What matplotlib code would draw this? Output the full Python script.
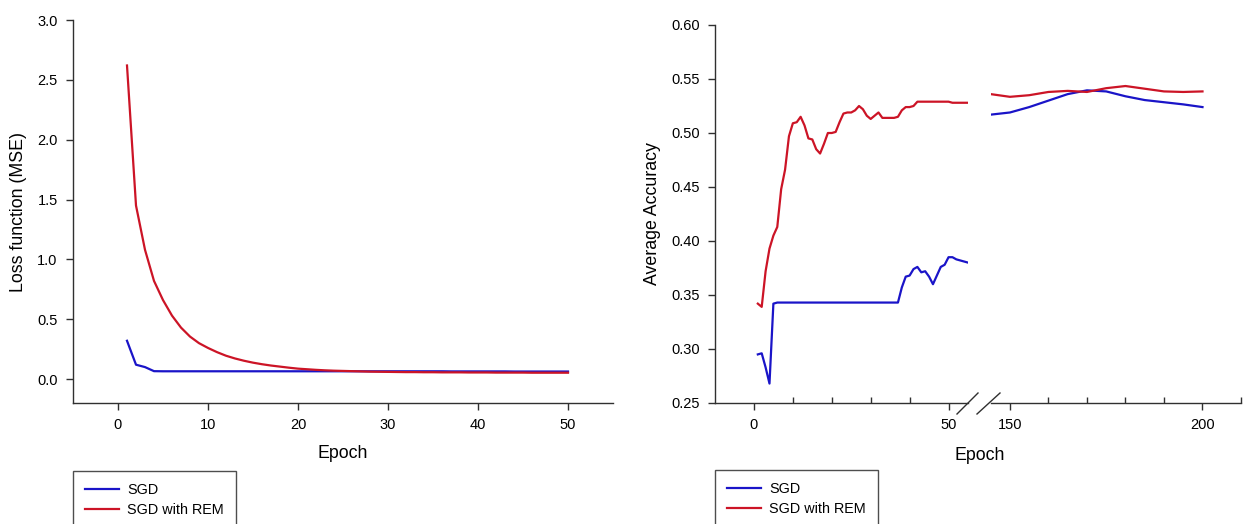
import matplotlib
matplotlib.use('Agg')
import matplotlib.pyplot as plt
from matplotlib.lines import Line2D
from matplotlib.ticker import FixedLocator, FormatStrFormatter

plt.rcParams['font.family'] = ['Liberation Sans', 'DejaVu Sans']

# ---------------- data ----------------
loss_epochs = list(range(1, 51))
loss_sgd = [0.32, 0.12, 0.10, 0.066, 0.065, 0.065, 0.065, 0.065, 0.065, 0.065,
            0.065, 0.065, 0.065, 0.065, 0.065, 0.065, 0.065, 0.065, 0.065, 0.065,
            0.065, 0.065, 0.065, 0.065, 0.065, 0.065, 0.065, 0.065, 0.065, 0.065,
            0.065, 0.065, 0.065, 0.065, 0.065, 0.065, 0.064, 0.064, 0.064, 0.064,
            0.064, 0.064, 0.064, 0.063, 0.063, 0.063, 0.063, 0.063, 0.063, 0.063]
loss_rem = [2.62, 1.45, 1.08, 0.82, 0.66, 0.53, 0.43, 0.355, 0.30, 0.26,
            0.225, 0.195, 0.172, 0.153, 0.137, 0.124, 0.113, 0.104, 0.095, 0.087,
            0.082, 0.077, 0.073, 0.070, 0.068, 0.066, 0.064, 0.062, 0.061, 0.060,
            0.059, 0.058, 0.058, 0.057, 0.057, 0.056, 0.056, 0.056, 0.055, 0.055,
            0.055, 0.054, 0.054, 0.054, 0.054, 0.053, 0.053, 0.053, 0.053, 0.053]

acc_epochs_a = list(range(1, 56))
acc_sgd_a = [0.295, 0.296, 0.283, 0.268, 0.342, 0.343, 0.343, 0.343, 0.343, 0.343,
             0.343, 0.343, 0.343, 0.343, 0.343, 0.343, 0.343, 0.343, 0.343, 0.343,
             0.343, 0.343, 0.343, 0.343, 0.343, 0.343, 0.343, 0.343, 0.343, 0.343,
             0.343, 0.343, 0.343, 0.343, 0.343, 0.343, 0.343, 0.357, 0.367, 0.368,
             0.374, 0.376, 0.371, 0.372, 0.367, 0.360, 0.368, 0.376, 0.378, 0.385,
             0.385, 0.383, 0.382, 0.381, 0.380]
acc_rem_a = [0.342, 0.339, 0.372, 0.393, 0.405, 0.413, 0.448, 0.466, 0.497, 0.509,
             0.510, 0.515, 0.507, 0.495, 0.494, 0.485, 0.481, 0.490, 0.500, 0.500,
             0.501, 0.510, 0.518, 0.519, 0.519, 0.521, 0.525, 0.522, 0.516, 0.513,
             0.516, 0.519, 0.514, 0.514, 0.514, 0.514, 0.515, 0.521, 0.524, 0.524,
             0.525, 0.529, 0.529, 0.529, 0.529, 0.529, 0.529, 0.529, 0.529, 0.529,
             0.528, 0.528, 0.528, 0.528, 0.528]

acc_epochs_b = [145, 150, 155, 160, 165, 170, 175, 180, 185, 190, 195, 200]
acc_sgd_b = [0.517, 0.519, 0.524, 0.530, 0.536, 0.5395, 0.5385, 0.534, 0.5305, 0.5285, 0.5265, 0.524]
acc_rem_b = [0.536, 0.5335, 0.535, 0.538, 0.539, 0.538, 0.5415, 0.5435, 0.541, 0.5385, 0.538, 0.5385]

labels = ['SGD', 'SGD with REM']
loss_yticks = [0.0, 0.5, 1.0, 1.5, 2.0, 2.5, 3.0]
loss_xticks = [0, 10, 20, 30, 40, 50]
acc_yticks = [0.25, 0.30, 0.35, 0.40, 0.45, 0.50, 0.55, 0.60]

BLUE = '#1a14c8'
RED = '#cc1426'
SPINE = '#303030'
TICK_FS = 10.5
LABEL_FS = 12.8
LEG_FS = 10.4

W, H = 1244, 524
fig = plt.figure(figsize=(W / 100, H / 100), dpi=100)


def rect(x0, y0, x1, y1):
    return [x0 / W, 1 - y1 / H, (x1 - x0) / W, (y1 - y0) / H]


def style(ax, left=True):
    for s in ['top', 'right']:
        ax.spines[s].set_visible(False)
    ax.spines['left'].set_visible(left)
    for s in ['left', 'bottom']:
        ax.spines[s].set_color(SPINE)
        ax.spines[s].set_linewidth(1.0)
    ax.tick_params(which='major', direction='out', length=5, width=1,
                   color=SPINE, labelsize=TICK_FS, pad=6)
    ax.tick_params(which='minor', direction='in', length=4, width=1, color=SPINE)
    ax.set_facecolor('none')


def make_legend(handles, x, y):
    leg = fig.legend(handles=handles, labels=labels,
                     loc='upper left', bbox_to_anchor=(x / W, 1 - y / H),
                     frameon=True, fancybox=False, fontsize=LEG_FS,
                     handlelength=2.3, handletextpad=0.6, borderpad=0.85,
                     labelspacing=0.4, borderaxespad=0)
    leg.get_frame().set_edgecolor('#222222')
    leg.get_frame().set_linewidth(1.0)
    return leg


lw = 1.6

# ---------------- left: loss ----------------
axL = fig.add_axes(rect(73, 20, 613, 403))
style(axL)
axL.plot(loss_epochs, loss_sgd, color=BLUE, lw=lw, label=labels[0])
axL.plot(loss_epochs, loss_rem, color=RED, lw=lw, label=labels[1])
axL.set_xlim(-5, 55)
axL.set_ylim(-0.2, 3.0)
axL.set_xticks(loss_xticks)
axL.set_yticks(loss_yticks)
axL.yaxis.set_major_formatter(FormatStrFormatter('%.1f'))
axL.set_xlabel('Epoch', fontsize=LABEL_FS, labelpad=9)
axL.set_ylabel('Loss function (MSE)', fontsize=LABEL_FS, labelpad=7)
make_legend(axL.get_lines(), 73, 471)

# ---------------- right: accuracy with broken x-axis ----------------
axA = fig.add_axes(rect(715, 25, 968, 403))
axB = fig.add_axes(rect(990.7, 25, 1241, 403), sharey=axA)
style(axA)
style(axB, left=False)
axB.tick_params(axis='y', which='both', left=False, labelleft=False)

axA.plot(acc_epochs_a, acc_sgd_a, color=BLUE, lw=lw, label=labels[0])
axA.plot(acc_epochs_a, acc_rem_a, color=RED, lw=lw, label=labels[1])
axB.plot(acc_epochs_b, acc_sgd_b, color=BLUE, lw=lw)
axB.plot(acc_epochs_b, acc_rem_b, color=RED, lw=lw)

axA.set_xlim(-10, 55)
axB.set_xlim(145, 210)
axA.set_ylim(0.25, 0.60)
axA.set_yticks(acc_yticks)
axA.yaxis.set_major_formatter(FormatStrFormatter('%.2f'))
axA.xaxis.set_major_locator(FixedLocator([0, 50]))
axA.xaxis.set_minor_locator(FixedLocator([10, 20, 30, 40]))
axB.xaxis.set_major_locator(FixedLocator([150, 200]))
axB.xaxis.set_minor_locator(FixedLocator([160, 170, 180, 190, 210]))
axA.set_ylabel('Average Accuracy', fontsize=LABEL_FS, labelpad=7)
fig.text(980 / W, 1 - 456 / H, 'Epoch', fontsize=LABEL_FS, ha='center', va='center')

# break marks
for (x0, y0, x1, y1) in [(957, 414, 978, 393), (977, 414, 1000, 393)]:
    fig.add_artist(Line2D([x0 / W, x1 / W], [1 - y0 / H, 1 - y1 / H],
                          transform=fig.transFigure, color=SPINE, lw=1.0))

make_legend(axA.get_lines(), 715, 470)

fig.savefig('out.png', dpi=100)
